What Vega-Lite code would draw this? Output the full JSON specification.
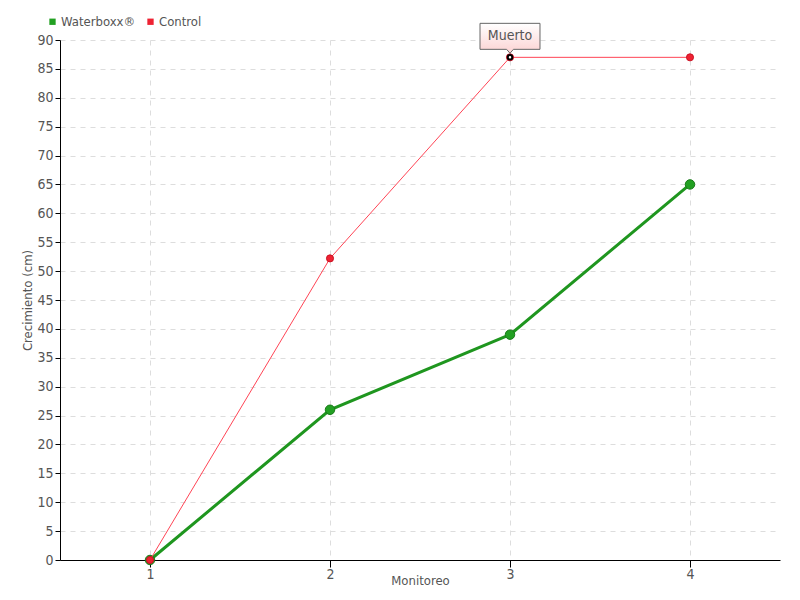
{
  "$schema": "https://vega.github.io/schema/vega-lite/v6.json",
  "autosize": "none",
  "width": 720,
  "height": 520,
  "padding": {"left": 60, "top": 40, "right": 20, "bottom": 40},
  "background": "white",
  "config": {
    "font": "DejaVu Sans Condensed, Roboto, sans-serif",
    "view": {"stroke": null},
    "axis": {
      "labelFont": "DejaVu Sans Condensed, Roboto, sans-serif",
      "titleFont": "DejaVu Sans Condensed, Roboto, sans-serif",
      "labelFontSize": 14,
      "titleFontSize": 13,
      "titleFontWeight": "normal",
      "labelColor": "#555555",
      "titleColor": "#555555",
      "domainColor": "#000000",
      "tickColor": "#000000",
      "gridColor": "#dddddd",
      "gridDash": [5, 5]
    }
  },
  "datasets": {
    "series": [
      {"monitoreo": "1", "valor": 0, "serie": "Waterboxx®"},
      {"monitoreo": "2", "valor": 26, "serie": "Waterboxx®"},
      {"monitoreo": "3", "valor": 39, "serie": "Waterboxx®"},
      {"monitoreo": "4", "valor": 65, "serie": "Waterboxx®"},
      {"monitoreo": "1", "valor": 0, "serie": "Control"},
      {"monitoreo": "2", "valor": 52.2, "serie": "Control"},
      {"monitoreo": "3", "valor": 87, "serie": "Control"},
      {"monitoreo": "4", "valor": 87, "serie": "Control"}
    ],
    "note": [
      {"monitoreo": "3", "valor": 87, "label": "Muerto"}
    ]
  },
  "encoding": {
    "x": {
      "field": "monitoreo",
      "type": "ordinal",
      "scale": {"type": "point", "padding": 0.5},
      "axis": {"title": "Monitoreo", "labelAngle": 0, "grid": true, "tickSize": 7, "labelPadding": 0, "titleY": 20, "titleBaseline": "middle"}
    },
    "y": {
      "field": "valor",
      "type": "quantitative",
      "scale": {"domain": [0, 90], "nice": false},
      "axis": {"title": "Crecimiento (cm)", "values": [0,5,10,15,20,25,30,35,40,45,50,55,60,65,70,75,80,85,90], "tickSize": 5, "labelPadding": 2, "titleX": -33, "titleBaseline": "middle", "grid": true}
    }
  },
  "layer": [
    {
      "data": {"name": "series"},
      "transform": [{"filter": "datum.serie === 'Waterboxx®'"}],
      "mark": {"type": "line", "color": "#1f961f", "strokeWidth": 3},
      "encoding": {}
    },
    {
      "data": {"name": "series"},
      "transform": [{"filter": "datum.serie === 'Waterboxx®'"}],
      "mark": {"type": "point", "filled": true, "size": 90, "stroke": "#1a7a1a", "strokeWidth": 1, "opacity": 1},
      "encoding": {
        "color": {
          "field": "serie",
          "type": "nominal",
          "scale": {"domain": ["Waterboxx®", "Control"], "range": ["#22a022", "#ee2233"]},
          "legend": {
            "title": null,
            "orient": "none",
            "direction": "horizontal",
            "legendX": -14,
            "legendY": -25,
            "symbolType": "square",
            "symbolSize": 40,
            "symbolStrokeWidth": 0,
            "labelFont": "DejaVu Sans Condensed, Roboto, sans-serif",
            "labelFontSize": 13,
            "labelColor": "#555555",
            "labelOffset": 2,
            "columnPadding": 8
          }
        }
      }
    },
    {
      "data": {"name": "series"},
      "transform": [{"filter": "datum.serie === 'Control'"}],
      "mark": {"type": "line", "color": "#ff4455", "strokeWidth": 1},
      "encoding": {}
    },
    {
      "data": {"name": "series"},
      "transform": [{"filter": "datum.serie === 'Control'"}],
      "mark": {"type": "point", "filled": true, "size": 50, "stroke": "#cc1122", "strokeWidth": 1, "opacity": 1, "color": "#ee2233"},
      "encoding": {}
    },
    {
      "data": {"name": "note"},
      "mark": {"type": "point", "filled": true, "size": 20, "color": "#ffffff", "stroke": "#000000", "strokeWidth": 2, "opacity": 1},
      "encoding": {}
    },
    {
      "data": {"name": "note"},
      "mark": {
        "type": "point",
        "shape": "M-0.882,-1 L0.882,-1 L0.882,-0.235 L0.1,-0.235 L0,-0.12 L-0.1,-0.235 L-0.882,-0.235 Z",
        "size": 4624,
        "filled": true,
        "opacity": 1,
        "fill": {"gradient": "linear", "x1": 0, "y1": 0, "x2": 0, "y2": 1, "stops": [{"offset": 0, "color": "#ffffff"}, {"offset": 1, "color": "#fcd2d2"}]},
        "stroke": "#666666",
        "strokeWidth": 1
      },
      "encoding": {}
    },
    {
      "data": {"name": "note"},
      "mark": {"type": "text", "dy": -21, "fontSize": 14, "color": "#555555", "font": "DejaVu Sans Condensed, Roboto, sans-serif", "baseline": "middle", "align": "center"},
      "encoding": {"text": {"field": "label"}}
    }
  ]
}
